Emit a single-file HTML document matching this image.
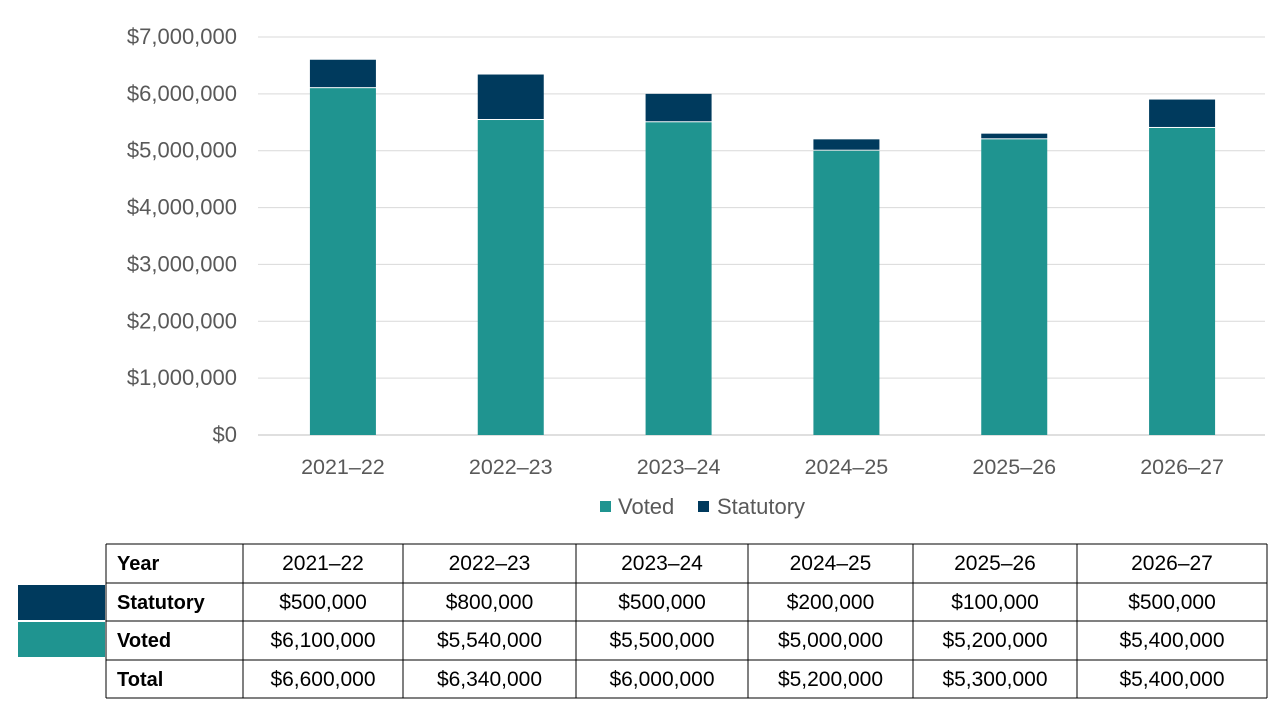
<!DOCTYPE html>
<html><head><meta charset="utf-8">
<style>
body{margin:0;width:1280px;height:720px;background:#fff;font-family:"Liberation Sans",sans-serif;overflow:hidden;position:relative}
svg{position:absolute;left:0;top:0}
</style></head>
<body>
<svg width="1280" height="720" id="chart"></svg>
<script>
const categories=["2021–22","2022–23","2023–24","2024–25","2025–26","2026–27"];
const voted=[6100000,5540000,5500000,5000000,5200000,5400000];
const statutory=[500000,800000,500000,200000,100000,500000];
const totalsRow=["$6,600,000","$6,340,000","$6,000,000","$5,200,000","$5,300,000","$5,400,000"];
const yTicks=[0,1000000,2000000,3000000,4000000,5000000,6000000,7000000];
const NS="http://www.w3.org/2000/svg";
const svg=document.getElementById('chart');
const y0=435,yTop=37,yMax=7000000,xL=258,xR=1265;
const y=v=>y0-(v/yMax)*(y0-yTop);
const band=(xR-xL)/categories.length;
const xc=i=>xL+band*(i+0.5)+1;
function mk(t,a,txt){const e=document.createElementNS(NS,t);for(const k in a)e.setAttribute(k,a[k]);if(txt!==undefined)e.textContent=txt;svg.appendChild(e);return e;}
const fmt=v=>"$"+v.toLocaleString("en-US");
yTicks.forEach(v=>{
 let l=mk('line',{x1:xL,x2:xR,y1:y(v),y2:y(v),stroke:v?'#d9d9d9':'#bfbfbf','stroke-width':1});
 
 
 let t=mk('text',{x:237,y:y(v)+7,'text-anchor':'end','font-size':22,fill:'#595959'},fmt(v));
 
 
});
categories.forEach((c,i)=>{
 const w=66,x=xc(i)-w/2;
 let b=mk('rect',{x:x,y:y(voted[i]),width:w,height:y0-y(voted[i]),fill:'#1f9490'});
 
 
 let s=mk('rect',{x:x,y:y(voted[i]+statutory[i]),width:w,height:y(voted[i])-y(voted[i]+statutory[i])-1,fill:'#003a5d'});
 
 
 let t=mk('text',{x:xc(i),y:474,'text-anchor':'middle','font-size':21.5,fill:'#595959'},c);
 
 
});
let g1=mk('rect',{x:600,y:501,width:11,height:11,fill:'#1f9490'});
let g2=mk('text',{x:618,y:514,'font-size':22,fill:'#595959'},'Voted');
let g3=mk('rect',{x:698,y:501,width:11,height:11,fill:'#003a5d'});
let g4=mk('text',{x:717,y:514,'font-size':22,fill:'#595959'},'Statutory');
const cols=[106,243,403,576,748,913,1077,1267];
const rows=[544,583,621,660,698];
let sw1=mk('rect',{x:18,y:585,width:87,height:35,fill:'#003a5d'});
let sw2=mk('rect',{x:18,y:622,width:87,height:35,fill:'#1f9490'});
const tdata=[["Year",...categories],["Statutory",...statutory.map(fmt)],["Voted",...voted.map(fmt)],["Total",...totalsRow]];
tdata.forEach((r,ri)=>{r.forEach((cell,ci)=>{
 const cx=ci===0?cols[0]+11:(cols[ci]+cols[ci+1])/2;
 let t=mk('text',{x:cx,y:rows[ri]+26,'text-anchor':ci===0?'start':'middle','font-size':ci===0?20:21,fill:'#000','font-weight':ci===0?'bold':'normal'},cell);
 
 
});});
rows.forEach(ry=>{let l=mk('line',{x1:cols[0],x2:cols[7],y1:ry,y2:ry,stroke:'#000','stroke-width':1});});
cols.forEach(cx=>{let l=mk('line',{x1:cx,x2:cx,y1:rows[0],y2:rows[4],stroke:'#000','stroke-width':1});});
</script>
</body></html>
